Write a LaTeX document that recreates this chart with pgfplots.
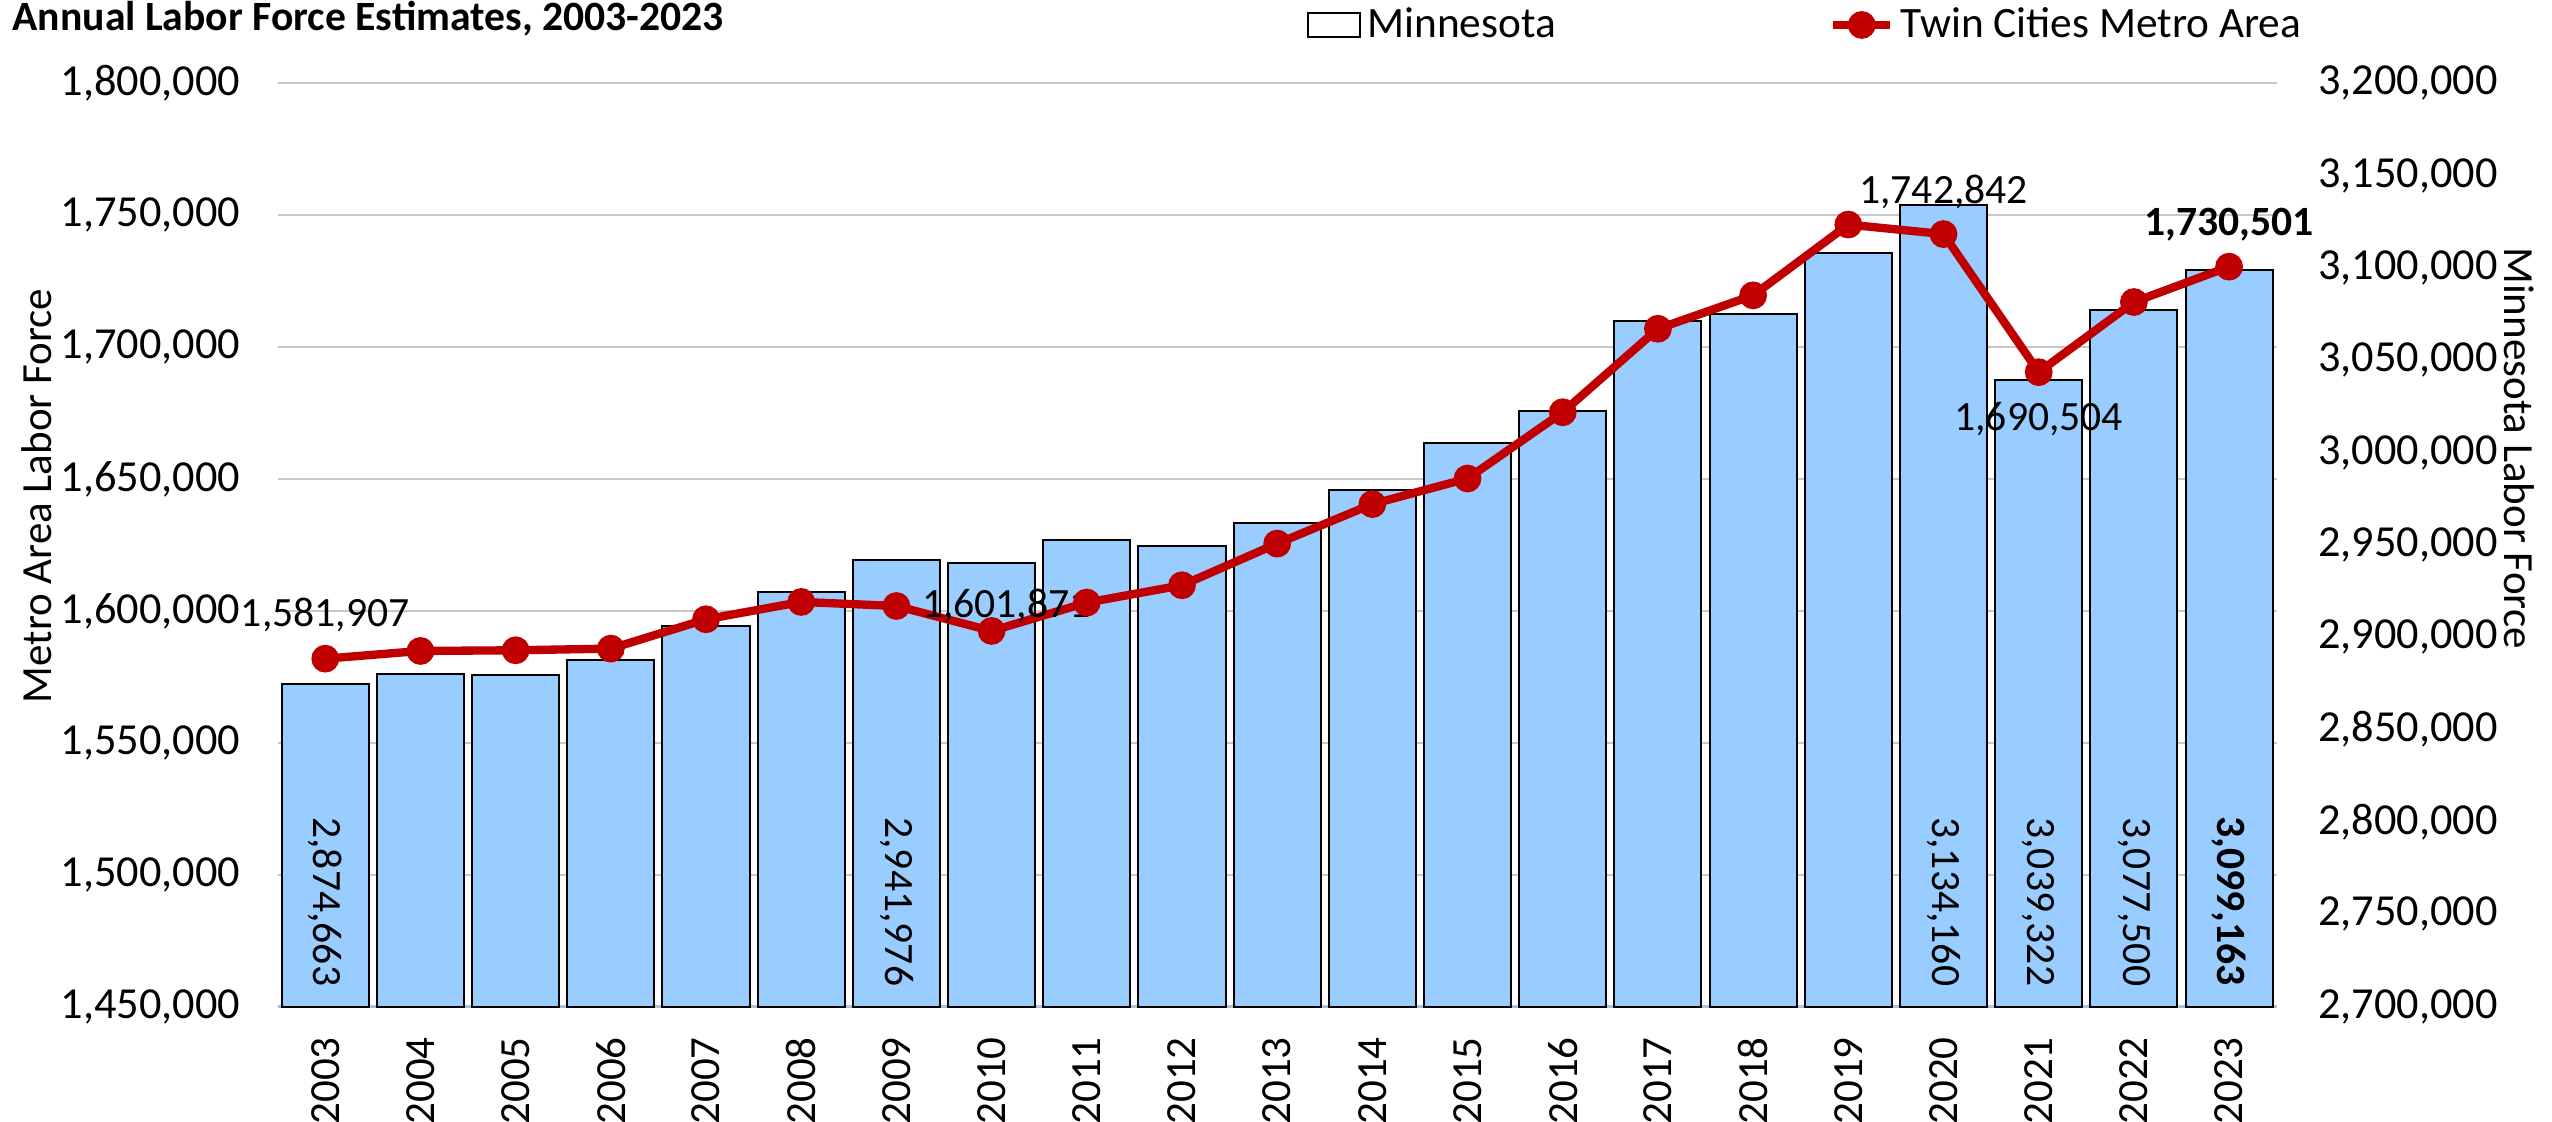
\documentclass[border=0pt]{standalone}
\usepackage{pgfplots}
\pgfplotsset{compat=1.18}
\usepackage{fontspec}
\setmainfont{Carlito}
\definecolor{barblue}{RGB}{153,204,255}
\definecolor{linered}{RGB}{192,0,0}
\definecolor{gridgray}{RGB}{200,200,200}
\definecolor{baseblue}{RGB}{170,195,225}
\newcommand{\fs}{\fontsize{12.5}{15}\selectfont}
\newcommand{\ft}{\fontsize{13.3}{16}\selectfont}
\newcommand{\fl}{\fontsize{12.9}{15.5}\selectfont}

\pgfplotsset{
  base/.style={
    scale only axis, width=599.7pt, height=277pt,
    xmin=-0.5, xmax=20.5,
    scaled y ticks=false,
    /pgf/number format/assume math mode=true,
    /pgf/number format/fixed,
    /pgf/number format/precision=0,
    /pgf/number format/1000 sep={,},
    tick label style={font=\ft},
    label style={font=\fl},
    major tick length=0pt,
    clip=false,
  }
}

\begin{document}
\begin{tikzpicture}
% ---- left axis: grid + Metro Area ticks
\begin{axis}[base,
  ymin=1450000, ymax=1800000,
  ytick={1450000,1500000,1550000,1600000,1650000,1700000,1750000,1800000},
  axis x line=none,
  axis y line*=left,
  y axis line style={draw=none,-},
  ytick style={draw=none},
  ymajorgrids,
  grid style={gridgray, line width=0.6pt},
  yticklabel style={inner sep=0pt},
  yticklabel shift=11pt,
  ylabel={Metro Area Labor Force},
  every axis y label/.style={at={(axis description cs:-0.1206,0.553)}, rotate=90, anchor=center, font=\fl},
]
\coordinate (bl) at (rel axis cs:0,0);
\coordinate (tl) at (rel axis cs:0,1);
\coordinate (tr) at (rel axis cs:1,1);
\end{axis}

% ---- bars: Minnesota, right axis
\begin{axis}[base,
  ymin=2700000, ymax=3200000,
  ytick={2700000,2750000,2800000,2850000,2900000,2950000,3000000,3050000,3100000,3150000,3200000},
  axis y line*=right,
  y axis line style={draw=none,-},
  ytick style={draw=none},
  yticklabel style={inner sep=0pt},
  yticklabel shift=12.3pt,
  axis x line*=bottom,
  x axis line style={baseblue, line width=0.7pt, -},
  xtick={0,...,20},
  xticklabels={2003,2004,2005,2006,2007,2008,2009,2010,2011,2012,2013,2014,2015,2016,2017,2018,2019,2020,2021,2022,2023},
  xtick style={draw=none},
  xticklabel style={rotate=90, anchor=east, inner sep=0pt, font=\fl},
  xticklabel shift=9pt,
  ylabel={Minnesota Labor Force},
  every axis y label/.style={at={(axis description cs:1.1212,0.605)}, rotate=-90, anchor=center, font=\fl},
]
\addplot[ybar, bar width=0.915, fill=barblue, draw=black, line width=0.6pt] coordinates {
(0,2874663) (1,2880094) (2,2879551) (3,2887690) (4,2906137) (5,2924766) (6,2941976)
(7,2940500) (8,2952437) (9,2949724) (10,2961660) (11,2979917) (12,3005237) (13,3022780)
(14,3071069) (15,3075047) (16,3108326) (17,3134160) (18,3039322) (19,3077500) (20,3099163)
};
\node[rotate=-90, anchor=east, inner sep=0pt, font=\fs] at (axis cs:0,2710800) {2,874,663};
\node[rotate=-90, anchor=east, inner sep=0pt, font=\fs] at (axis cs:6,2710800) {2,941,976};
\node[rotate=-90, anchor=east, inner sep=0pt, font=\fs] at (axis cs:17,2710800) {3,134,160};
\node[rotate=-90, anchor=east, inner sep=0pt, font=\fs] at (axis cs:18,2710800) {3,039,322};
\node[rotate=-90, anchor=east, inner sep=0pt, font=\fs] at (axis cs:19,2710800) {3,077,500};
\node[rotate=-90, anchor=east, inner sep=0pt, font=\fs\bfseries] at (axis cs:20,2710800) {3,099,163};
\end{axis}

% ---- line: Twin Cities, left scale
\begin{axis}[base,
  ymin=1450000, ymax=1800000,
  hide axis,
  legend columns=2,
  legend cell align=left,
  legend style={at={(axis description cs:0.5144,1)}, anchor=west, yshift=17.5pt,
    draw=none, fill=none, inner sep=0pt,
    font=\fontsize{13}{15.5}\selectfont,
    nodes={inner xsep=2pt, inner ysep=0pt},
    /tikz/every even column/.append style={column sep=80pt}},
]
\addlegendimage{legend image code/.code={\draw[black, line width=0.6pt, fill=white] (0pt,-3.6pt) rectangle (15.6pt,3.6pt);}}
\addlegendentry{Minnesota}
\addplot[linered, line width=2.5pt, mark=*, mark size=2.9pt, mark options={draw=none, fill=linered},
  legend image code/.code={\draw[linered, line width=2.5pt] (0pt,0pt) -- (17pt,0pt); \fill[linered] (8.5pt,0pt) circle (2.9pt);}]
coordinates {
(0,1581907) (1,1584830) (2,1585085) (3,1585715) (4,1596840) (5,1603410) (6,1601871)
(7,1592416) (8,1603160) (9,1609730) (10,1625530) (11,1640500) (12,1650200) (13,1675313)
(14,1706960) (15,1719620) (16,1746455) (17,1742842) (18,1690504) (19,1717090) (20,1730501)
};
\addlegendentry{Twin Cities Metro Area}
\node[font=\fs, inner sep=0pt, yshift=13pt] at (axis cs:0,1581907) {1,581,907};
\node[font=\fs, inner sep=0pt, anchor=west, xshift=7.5pt] at (axis cs:6,1601871) {1,601,871};
\node[font=\fs, inner sep=0pt, yshift=12.7pt] at (axis cs:17,1742842) {1,742,842};
\node[font=\fs, inner sep=0pt, yshift=-14.2pt] at (axis cs:18,1690504) {1,690,504};
\node[font=\fs\bfseries, inner sep=0pt, yshift=12.5pt] at (axis cs:20,1730501) {1,730,501};
\end{axis}

\node[anchor=base west, inner sep=0pt, font=\bfseries\fontsize{12.5}{15}\selectfont] at ([shift={(-79.7pt,15.8pt)}]tl) {Annual Labor Force Estimates, 2003-2023};

\pgfresetboundingbox
\path[use as bounding box] ([shift={(-83.3pt,-34.6pt)}]bl) rectangle ([shift={(82.6pt,25pt)}]tr);
\end{tikzpicture}
\end{document}
